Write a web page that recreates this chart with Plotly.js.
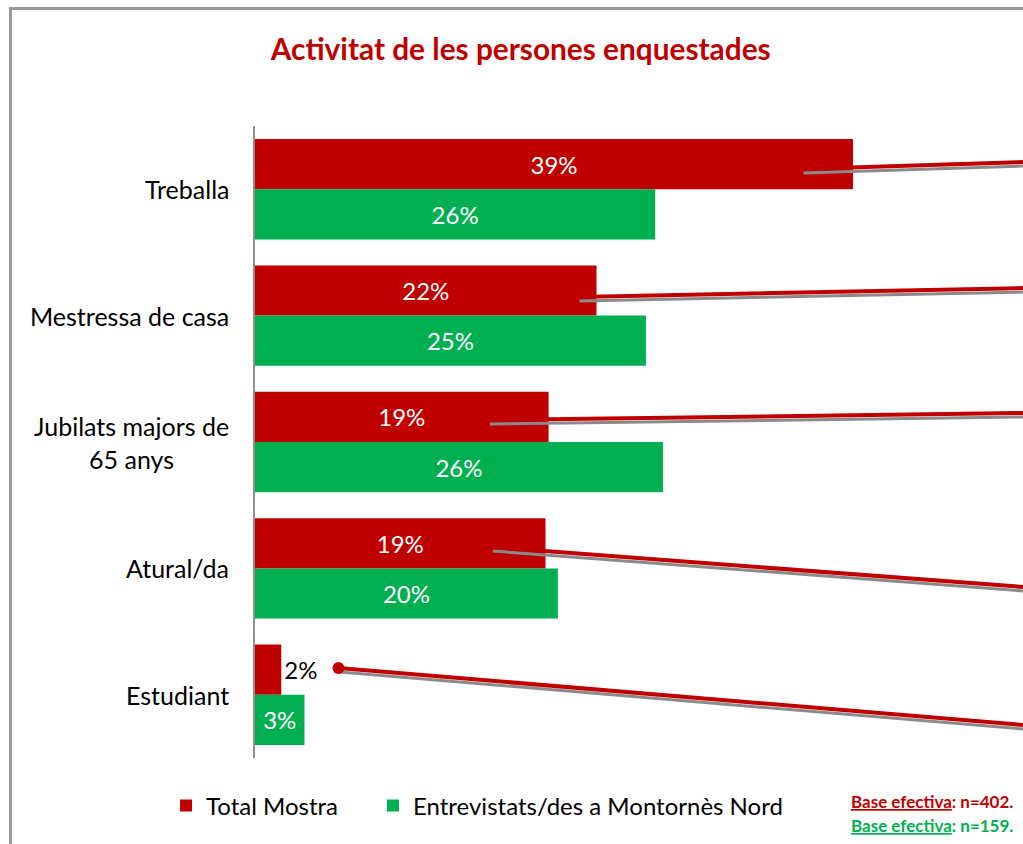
<!DOCTYPE html>
<html>
<head>
<meta charset="utf-8">
<script src="https://cdn.plot.ly/plotly-3.0.1.min.js"></script>
<style>
  html, body { margin: 0; padding: 0; background: #ffffff; }
  #chart { width: 1023px; height: 844px; }
</style>
</head>
<body>
<div id="chart"></div>
<script>
// ---- Data ----
const categories = ["Treballa", "Mestressa de casa", "Jubilats majors de<br>65 anys", "Atural/da", "Estudiant"];
const totalMostra = [38.7, 22.1, 19.0, 18.8, 1.7];
const montornesNord = [25.9, 25.3, 26.4, 19.6, 3.2];
const seriesNames = ["Total Mostra", "Entrevistats/des a Montornès Nord"];
const baseTotal = 402;
const baseNord = 159;

// ---- Decorative leader lines (from the original export) ----
const leaderStartX = [35.4, 20.9, 15.1, 15.3, 5.4];
const leaderStartY = [-0.16, 0.853, 1.826, 2.831, 3.788];
const leaderEndY = [-0.215, 0.782, 1.771, 3.147, 4.239];

const RED = "#C00000";
const GREEN = "#00B050";
const FONT = "Lato, 'Open Sans', sans-serif";
const XMAX = 49.7;

const traces = [
  {
    type: "bar", orientation: "h", name: seriesNames[0],
    y: categories, x: totalMostra,
    marker: { color: RED },
    texttemplate: "%{x:.0f}%",
    textposition: totalMostra.map(v => v < 5 ? "outside" : "inside"),
    insidetextanchor: "middle",
    insidetextfont: { family: FONT, size: 24, color: "#ffffff" },
    outsidetextfont: { family: FONT, size: 24, color: "#000000" },
    constraintext: "none", textangle: 0, cliponaxis: false,
    hoverinfo: "skip", legend: "legend"
  },
  {
    type: "bar", orientation: "h", name: seriesNames[1],
    y: categories, x: montornesNord,
    marker: { color: GREEN },
    texttemplate: "%{x:.0f}%",
    textposition: "inside",
    insidetextanchor: "middle",
    insidetextfont: { family: FONT, size: 24, color: "#ffffff" },
    constraintext: "none", textangle: 0, cliponaxis: false,
    hoverinfo: "skip", legend: "legend2"
  }
];

const shapes = [
  // outer frame (top/left visible)
  { type: "rect", xref: "paper", yref: "paper", x0: -0.3184, x1: 1.2, y0: 1.186, y1: -0.3,
    line: { color: "#999999", width: 3 }, fillcolor: "rgba(0,0,0,0)", layer: "below" }
];
for (let i = 0; i < leaderStartX.length; i++) {
  const sh = 4 / 126.4;
  shapes.push({ type: "line", xref: "x", yref: "y",
    x0: leaderStartX[i] + 0.1, x1: XMAX, y0: leaderStartY[i] + sh, y1: leaderEndY[i] + sh,
    line: { color: "#8a8a8a", width: 3 }, layer: "above" });
  shapes.push({ type: "line", xref: "x", yref: "y",
    x0: leaderStartX[i], x1: XMAX, y0: leaderStartY[i], y1: leaderEndY[i],
    line: { color: RED, width: 4 }, layer: "above" });
}
// dot at start of last leader line
shapes.push({ type: "circle", xref: "x", yref: "y", xsizemode: "pixel", ysizemode: "pixel",
  xanchor: leaderStartX[4], yanchor: leaderStartY[4], x0: -6, x1: 6, y0: -6, y1: 6,
  fillcolor: RED, line: { color: RED, width: 0 }, layer: "above" });

const annotations = categories.map(c => ({
  xref: "paper", x: 0, xanchor: "right", xshift: -24,
  yref: "y", y: c, yanchor: "middle",
  text: c, showarrow: false, align: "center",
  font: { family: FONT, size: 25, color: "#000000" }
}));
annotations.push({
  xref: "paper", yref: "paper", x: 0.990, y: -0.0686, xanchor: "right", yanchor: "middle",
  text: "<u>Base efectiva</u>: n=" + baseTotal + ".", showarrow: false,
  font: { family: "'Liberation Sans Narrow', Lato, sans-serif", size: 17, color: RED, weight: "bold" }
});
annotations.push({
  xref: "paper", yref: "paper", x: 0.990, y: -0.1066, xanchor: "right", yanchor: "middle",
  text: "<u>Base efectiva</u>: n=" + baseNord + ".", showarrow: false,
  font: { family: "'Liberation Sans Narrow', Lato, sans-serif", size: 17, color: GREEN, weight: "bold" }
});

const legendCommon = {
  orientation: "h", xanchor: "left", xref: "container", yref: "container",
  y: 0.045, yanchor: "middle",
  font: { family: FONT, size: 24, color: "#000000" },
  bgcolor: "rgba(0,0,0,0)"
};

const layout = {
  width: 1023, height: 844,
  margin: { l: 255, r: 0, t: 126, b: 86, pad: 0, autoexpand: false },
  paper_bgcolor: "#ffffff", plot_bgcolor: "#ffffff",
  title: {
    text: "<b>Activitat de les persones enquestades</b>",
    font: { family: FONT, size: 29.8, color: RED },
    x: 0.509, xanchor: "center", y: 0.941, yanchor: "middle", xref: "container", yref: "container"
  },
  barmode: "group", bargap: 0.206, bargroupgap: 0,
  xaxis: { range: [0, XMAX], visible: false, fixedrange: true },
  yaxis: {
    type: "category", autorange: "reversed", showticklabels: false,
    showline: true, linecolor: "#8f8f8f", linewidth: 2, ticks: "",
    showgrid: false, zeroline: false, fixedrange: true
  },
  showlegend: true,
  legend: Object.assign({}, legendCommon, { x: 0.1623 }),
  legend2: Object.assign({}, legendCommon, { x: 0.3646 }),
  shapes: shapes,
  annotations: annotations
};

Plotly.newPlot("chart", traces, layout, { displayModeBar: false, staticPlot: true });
</script>
</body>
</html>
